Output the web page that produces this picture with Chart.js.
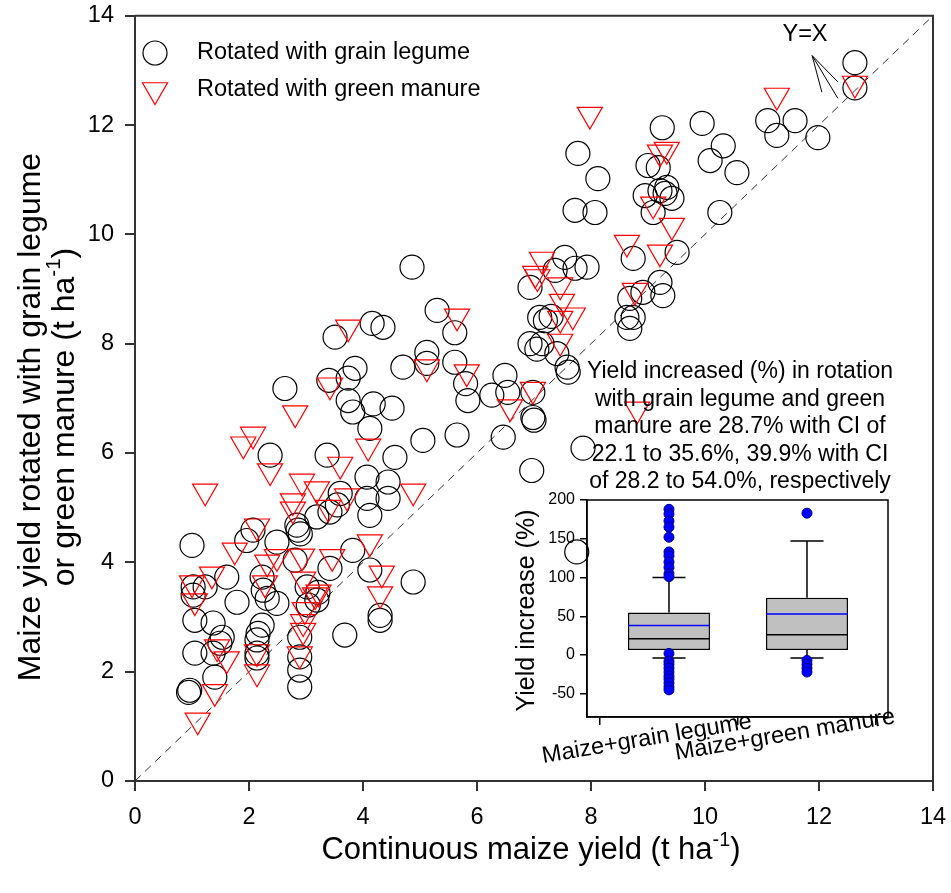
<!DOCTYPE html>
<html>
<head>
<meta charset="utf-8">
<script src="https://cdn.jsdelivr.net/npm/chart.js@4.4.0/dist/chart.umd.min.js"></script>
<style>
  body { margin: 0; background: #fff; }
  #wrap { position: relative; width: 951px; height: 893px; }
  #mainChart { position: absolute; left: 0; top: 0; }
  #insetChart { position: absolute; left: 500px; top: 490px; }
</style>
</head>
<body>
<div id="wrap">
  <canvas id="mainChart" width="951" height="893"></canvas>
  <canvas id="insetChart" width="420" height="290"></canvas>
</div>
<script>
// continuous maize yield vs rotated yield (t/ha), [x, y]
const legumePoints = [
  [12.63,13.14],[12.63,12.68],[11.10,12.08],[11.58,12.08],[11.26,11.81],[11.98,11.77],
  [9.25,11.95],[9.95,12.03],[10.32,11.62],[10.09,11.35],[10.56,11.13],
  [7.77,11.48],[8.12,11.02],[7.72,10.44],[8.07,10.40],[10.26,10.40],
  [9.00,11.26],[9.18,11.22],[9.33,10.86],[8.95,10.71],[9.21,10.80],[9.42,10.66],[9.09,10.40],[9.30,10.75],
  [9.51,9.67],[8.74,9.56],[9.21,9.12],[9.26,8.88],[8.91,8.94],[8.68,8.83],[8.63,8.48],[8.74,8.48],[8.68,8.28],
  [7.54,9.58],[7.37,9.34],[7.93,9.40],[7.72,9.38],[6.93,9.03],
  [7.10,8.48],[7.20,8.42],[7.30,8.50],[6.93,8.00],[7.14,8.00],[7.05,7.90],[7.40,7.82],[7.58,7.57],[7.60,7.48],
  [7.86,6.09],[6.96,5.68],[6.98,6.65],[7.00,6.60],[6.46,6.29],[5.65,6.33],
  [6.26,7.06],[6.49,7.42],[6.54,7.11],[6.98,7.11],[5.84,6.96],[5.80,7.27],[5.61,7.66],
  [5.12,7.84],[5.12,7.64],[4.70,7.57],[5.61,8.20],[5.30,8.61],[4.86,9.40],
  [4.16,8.37],[4.35,8.30],[3.51,8.12],[3.86,7.55],[3.74,7.37],[3.40,7.33],[2.63,7.18],
  [3.74,6.96],[3.82,6.75],[4.18,6.90],[4.51,6.82],[4.12,6.45],[5.05,6.23],
  [2.37,5.96],[3.37,5.96],[4.56,5.92],[4.07,5.56],[4.44,5.47],[4.44,5.17],[4.07,5.17],[4.12,4.86],
  [3.60,5.26],[3.42,4.92],[3.55,5.05],[3.19,4.83],[2.84,4.68],[2.86,4.59],[2.90,4.52],
  [2.07,4.59],[1.96,4.40],[1.00,4.31],[2.49,4.37],[2.81,4.04],[3.42,3.89],[3.82,4.22],[4.12,3.86],[4.88,3.64],
  [1.61,3.73],[1.02,3.55],[1.02,3.40],[1.23,3.55],[1.79,3.27],[2.23,3.73],[2.25,3.49],[2.32,3.34],[2.49,3.25],
  [3.02,3.55],[3.21,3.45],[3.19,3.31],[3.04,3.22],
  [1.05,2.94],[1.37,2.89],[1.53,2.63],[1.49,2.52],[1.05,2.34],[1.37,2.34],[1.40,1.90],[0.96,1.66],[0.94,1.62],
  [2.23,2.85],[2.16,2.70],[2.14,2.58],[2.14,2.34],[2.14,2.25],
  [2.89,2.63],[2.89,2.27],[2.89,2.03],[2.89,1.72],[3.68,2.67],[4.30,3.03],[4.30,2.94],[7.75,4.19]
];
const manurePoints = [
  [1.90,6.16],[2.07,6.34],[2.37,5.67],[3.60,5.79],[4.09,6.12],[2.93,5.48],[3.19,5.34],[3.72,5.21],
  [4.88,5.30],[1.23,5.30],[2.77,5.12],[2.77,4.97],[3.39,5.00],[2.14,4.66],[1.75,4.22],[2.49,4.10],
  [3.46,4.10],[2.93,4.11],[2.32,4.00],[4.12,4.37],[4.33,3.80],[4.30,3.42],[1.35,3.78],[1.00,3.62],
  [1.05,3.29],[2.28,3.62],[2.95,3.69],[3.16,3.40],[3.22,3.45],[2.98,3.13],[2.95,2.91],[2.95,2.75],
  [2.89,2.32],[1.44,2.45],[1.61,2.23],[2.14,2.36],[2.14,1.99],[1.40,1.63],[1.10,1.11],
  [3.74,8.30],[5.65,8.50],[5.12,7.57],[5.82,7.48],[3.42,7.24],[2.81,6.73],
  [7.14,9.54],[7.02,9.28],[7.06,9.22],[7.46,9.07],[7.49,8.77],[7.68,8.52],[7.46,8.46],[7.46,8.04],
  [8.63,9.85],[9.21,9.67],[8.77,8.97],[6.98,7.16],[6.58,6.84],[8.81,6.80],
  [12.63,12.76],[11.26,12.54],[7.98,12.19],[9.33,11.55],[9.21,11.50],[9.09,10.55],[9.42,10.16]
];
const diagonal = [0, 14];
const axisTicks = [0, 2, 4, 6, 8, 10, 12, 14];

// box plot of yield increase (%)
const boxCategories = ['Maize+grain legume', 'Maize+green manure'];
const whiskerLow = [-4, -4];
const boxQ1 = [6.5, 6.5];
const boxMedian = [21, 26];
const boxMean = [38, 53];
const boxQ3 = [55, 74];
const whiskerHigh = [100, 147];
const outliersLegume = [188, 182, 173, 165, 152, 133, 128, 120, 113, 105, 101, 2, -8, -12, -17, -22, -27, -31, -36, -41, -45];
const outliersManure = [183, -7, -12, -17, -22];
const insetTicks = [-50, 0, 50, 100, 150, 200];

const noteLines = [
  'Yield increased (%) in rotation',
  'with grain legume and green',
  'manure are 28.7% with CI of',
  '22.1 to 35.6%, 39.9% with CI',
  'of 28.2 to 54.0%, respectively'
];

const FONT = '"Liberation Sans", Arial, sans-serif';
const font = s => s + 'px ' + FONT;

// text with superscript pieces, centred on (cx, cy)
function drawRich(ctx, parts, cx, cy, size) {
  let total = 0;
  parts.forEach(p => {
    ctx.font = font(p[1] ? size * 0.64 : size);
    total += ctx.measureText(p[0]).width;
  });
  let x = cx - total / 2;
  ctx.textAlign = 'left';
  ctx.textBaseline = 'alphabetic';
  parts.forEach(p => {
    const s = p[1] ? size * 0.64 : size;
    ctx.font = font(s);
    ctx.fillText(p[0], x, cy + size * 0.36 - (p[1] ? size * 0.42 : 0));
    x += ctx.measureText(p[0]).width;
  });
}

// keep tick labels from pushing the plot area inwards
function noEdgePadding(s) {
  s.paddingTop = 0;
  s.paddingBottom = 0;
  s.paddingLeft = 0;
  s.paddingRight = 0;
}

const mainDecor = {
  id: 'mainDecor',
  afterDraw(chart) {
    const ctx = chart.ctx;
    const a = chart.chartArea;
    const sx = chart.scales.x, sy = chart.scales.y;
    ctx.save();
    // top and right frame
    ctx.strokeStyle = '#333';
    ctx.lineWidth = 2;
    ctx.beginPath();
    ctx.moveTo(a.left, a.top);
    ctx.lineTo(a.right, a.top);
    ctx.lineTo(a.right, a.bottom);
    ctx.stroke();

    ctx.fillStyle = '#000';
    // axis titles
    drawRich(ctx, [['Continuous maize yield (t ha'], ['-1', true], [')']], 531, 848, 31);
    ctx.save();
    ctx.translate(28, 417);
    ctx.rotate(-Math.PI / 2);
    drawRich(ctx, [['Maize yield rotated with grain legume']], 0, 0, 32);
    drawRich(ctx, [['or green manure (t ha'], ['-1', true], [')']], 0, 34, 32);
    ctx.restore();

    // legend
    ctx.lineWidth = 1.2;
    ctx.strokeStyle = '#000';
    ctx.beginPath();
    ctx.arc(155, 53, 12, 0, Math.PI * 2);
    ctx.stroke();
    const r = 14.5;
    ctx.strokeStyle = '#ff0000';
    ctx.beginPath();
    ctx.moveTo(155 - r * 0.866, 90 - r / 2);
    ctx.lineTo(155 + r * 0.866, 90 - r / 2);
    ctx.lineTo(155, 90 + r);
    ctx.closePath();
    ctx.stroke();
    ctx.font = font(23.5);
    ctx.textAlign = 'left';
    ctx.textBaseline = 'middle';
    ctx.fillText('Rotated with grain legume', 197, 53);
    ctx.fillText('Rotated with green manure', 197, 90);

    // Y=X label with pointer lines
    ctx.textAlign = 'center';
    ctx.fillText('Y=X', 805, 35);
    const tip = [sx.getPixelForValue(11.88), sy.getPixelForValue(13.27)];
    ctx.strokeStyle = '#000';
    ctx.lineWidth = 1;
    [[12.05, 12.60], [12.33, 12.49], [12.33, 12.79]].forEach(e => {
      ctx.beginPath();
      ctx.moveTo(tip[0], tip[1]);
      ctx.lineTo(sx.getPixelForValue(e[0]), sy.getPixelForValue(e[1]));
      ctx.stroke();
    });

    // summary note
    ctx.font = font(23);
    noteLines.forEach((t, i) => ctx.fillText(t, 740, 372 + i * 27.5));
    ctx.restore();
  }
};

new Chart(document.getElementById('mainChart'), {
  type: 'scatter',
  data: {
    datasets: [
      {
        label: 'Rotated with green manure',
        data: manurePoints.map(p => ({ x: p[0], y: p[1] })),
        pointStyle: 'triangle',
        rotation: 180,
        pointRadius: 14.5,
        pointHoverRadius: 14.5,
        borderColor: '#ff0000',
        backgroundColor: 'rgba(0,0,0,0)',
        borderWidth: 1.2
      },
      {
        label: 'Rotated with grain legume',
        data: legumePoints.map(p => ({ x: p[0], y: p[1] })),
        pointStyle: 'circle',
        pointRadius: 12,
        pointHoverRadius: 12,
        borderColor: '#000',
        backgroundColor: 'rgba(0,0,0,0)',
        borderWidth: 1.2
      },
      {
        label: 'Y=X',
        type: 'line',
        data: diagonal.map(v => ({ x: v, y: v })),
        borderColor: '#333',
        borderWidth: 1,
        borderDash: [8, 6],
        pointRadius: 0
      }
    ]
  },
  options: {
    responsive: false,
    animation: false,
    layout: { padding: { left: 0, right: 18, top: 15, bottom: 0 } },
    plugins: { legend: { display: false }, tooltip: { enabled: false } },
    scales: {
      x: {
        type: 'linear',
        min: 0,
        max: 14,
        afterBuildTicks: s => { s.ticks = axisTicks.map(v => ({ value: v })); },
        afterFit: s => { s.height = 112; noEdgePadding(s); },
        grid: { drawOnChartArea: false, tickLength: 10, color: '#333', lineWidth: 2 },
        border: { color: '#333', width: 2 },
        ticks: { font: { family: FONT, size: 23.5 }, color: '#000', padding: 12, maxRotation: 0 }
      },
      y: {
        type: 'linear',
        min: 0,
        max: 14,
        afterBuildTicks: s => { s.ticks = axisTicks.map(v => ({ value: v })); },
        afterFit: s => { s.width = 135; noEdgePadding(s); },
        grid: { drawOnChartArea: false, tickLength: 10, color: '#333', lineWidth: 2 },
        border: { color: '#333', width: 2 },
        ticks: { font: { family: FONT, size: 23.5 }, color: '#000', padding: 11 }
      }
    }
  },
  plugins: [mainDecor]
});

// inset box plot
const capHalf = 0.12;
const insetDecor = {
  id: 'insetDecor',
  beforeDatasetsDraw(chart) {
    const ctx = chart.ctx;
    const sx = chart.scales.x, sy = chart.scales.y;
    ctx.save();
    ctx.strokeStyle = '#000';
    ctx.lineWidth = 1.5;
    boxCategories.forEach((c, i) => {
      const cx = sx.getPixelForValue(i + 1);
      const l = sx.getPixelForValue(i + 1 - capHalf), r = sx.getPixelForValue(i + 1 + capHalf);
      ctx.beginPath();
      ctx.moveTo(cx, sy.getPixelForValue(boxQ3[i]));
      ctx.lineTo(cx, sy.getPixelForValue(whiskerHigh[i]));
      ctx.moveTo(l, sy.getPixelForValue(whiskerHigh[i]));
      ctx.lineTo(r, sy.getPixelForValue(whiskerHigh[i]));
      ctx.moveTo(cx, sy.getPixelForValue(boxQ1[i]));
      ctx.lineTo(cx, sy.getPixelForValue(whiskerLow[i]));
      ctx.moveTo(l, sy.getPixelForValue(whiskerLow[i]));
      ctx.lineTo(r, sy.getPixelForValue(whiskerLow[i]));
      ctx.stroke();
    });
    ctx.restore();
  },
  afterDraw(chart) {
    const ctx = chart.ctx;
    const a = chart.chartArea;
    const sx = chart.scales.x, sy = chart.scales.y;
    const bars = chart.getDatasetMeta(1).data;
    ctx.save();
    ctx.lineWidth = 1.5;
    boxCategories.forEach((c, i) => {
      const hw = bars[i].width / 2;
      const cx = sx.getPixelForValue(i + 1);
      ctx.strokeStyle = '#000';
      ctx.beginPath();
      ctx.moveTo(cx - hw, sy.getPixelForValue(boxMedian[i]));
      ctx.lineTo(cx + hw, sy.getPixelForValue(boxMedian[i]));
      ctx.stroke();
      ctx.strokeStyle = '#0000ff';
      ctx.beginPath();
      ctx.moveTo(cx - hw, sy.getPixelForValue(boxMean[i]));
      ctx.lineTo(cx + hw, sy.getPixelForValue(boxMean[i]));
      ctx.stroke();
    });
    ctx.strokeStyle = '#000';
    ctx.strokeRect(a.left, a.top, a.right - a.left, a.bottom - a.top);

    // category labels, slightly tilted
    ctx.fillStyle = '#000';
    ctx.font = font(23.5);
    ctx.textAlign = 'center';
    ctx.textBaseline = 'middle';
    boxCategories.forEach((c, i) => {
      ctx.save();
      ctx.translate(sx.getPixelForValue(i + 1) - 22, a.bottom + 22 - i * 4);
      ctx.rotate(-9.5 * Math.PI / 180);
      ctx.fillText(c, 0, 0);
      ctx.restore();
    });

    ctx.save();
    ctx.translate(27, (a.top + a.bottom) / 2 + 2);
    ctx.rotate(-Math.PI / 2);
    ctx.font = font(25);
    ctx.fillText('Yield increase (%)', 0, 0);
    ctx.restore();
    ctx.restore();
  }
};

const outlierPoints = outliersLegume.map(v => ({ x: 1, y: v }))
  .concat(outliersManure.map(v => ({ x: 2, y: v })));

new Chart(document.getElementById('insetChart'), {
  type: 'bar',
  data: {
    datasets: [
      {
        type: 'scatter',
        label: 'Outliers',
        data: outlierPoints,
        pointRadius: 5,
        pointHoverRadius: 5,
        backgroundColor: '#0000ff',
        borderColor: '#00008b',
        borderWidth: 1
      },
      {
        type: 'bar',
        label: 'Interquartile range',
        data: boxQ1.map((q, i) => ({ x: i + 1, y: [q, boxQ3[i]] })),
        backgroundColor: '#c0c0c0',
        borderColor: '#000',
        borderWidth: 1.5,
        borderSkipped: false,
        barPercentage: 0.594,
        categoryPercentage: 1
      }
    ]
  },
  options: {
    responsive: false,
    animation: false,
    layout: { padding: { left: 0, right: 32, top: 10, bottom: 0 } },
    plugins: { legend: { display: false }, tooltip: { enabled: false } },
    scales: {
      x: {
        type: 'linear',
        min: 0.406,
        max: 2.587,
        offset: false,
        afterBuildTicks: s => { s.ticks = boxCategories.map((c, i) => ({ value: i + 1 })); },
        afterFit: s => { s.height = 63; noEdgePadding(s); },
        grid: { drawOnChartArea: false, tickLength: 8, color: '#000', lineWidth: 1.5 },
        border: { color: '#000', width: 1.5 },
        ticks: { display: false }
      },
      y: {
        type: 'linear',
        min: -80,
        max: 200,
        afterBuildTicks: s => { s.ticks = insetTicks.map(v => ({ value: v })); },
        afterFit: s => { s.width = 87; noEdgePadding(s); },
        grid: { drawOnChartArea: false, tickLength: 7, color: '#000', lineWidth: 1.5 },
        border: { color: '#000', width: 1.5 },
        ticks: { font: { family: FONT, size: 16 }, color: '#000', padding: 5 }
      }
    }
  },
  plugins: [insetDecor]
});
</script>
</body>
</html>
